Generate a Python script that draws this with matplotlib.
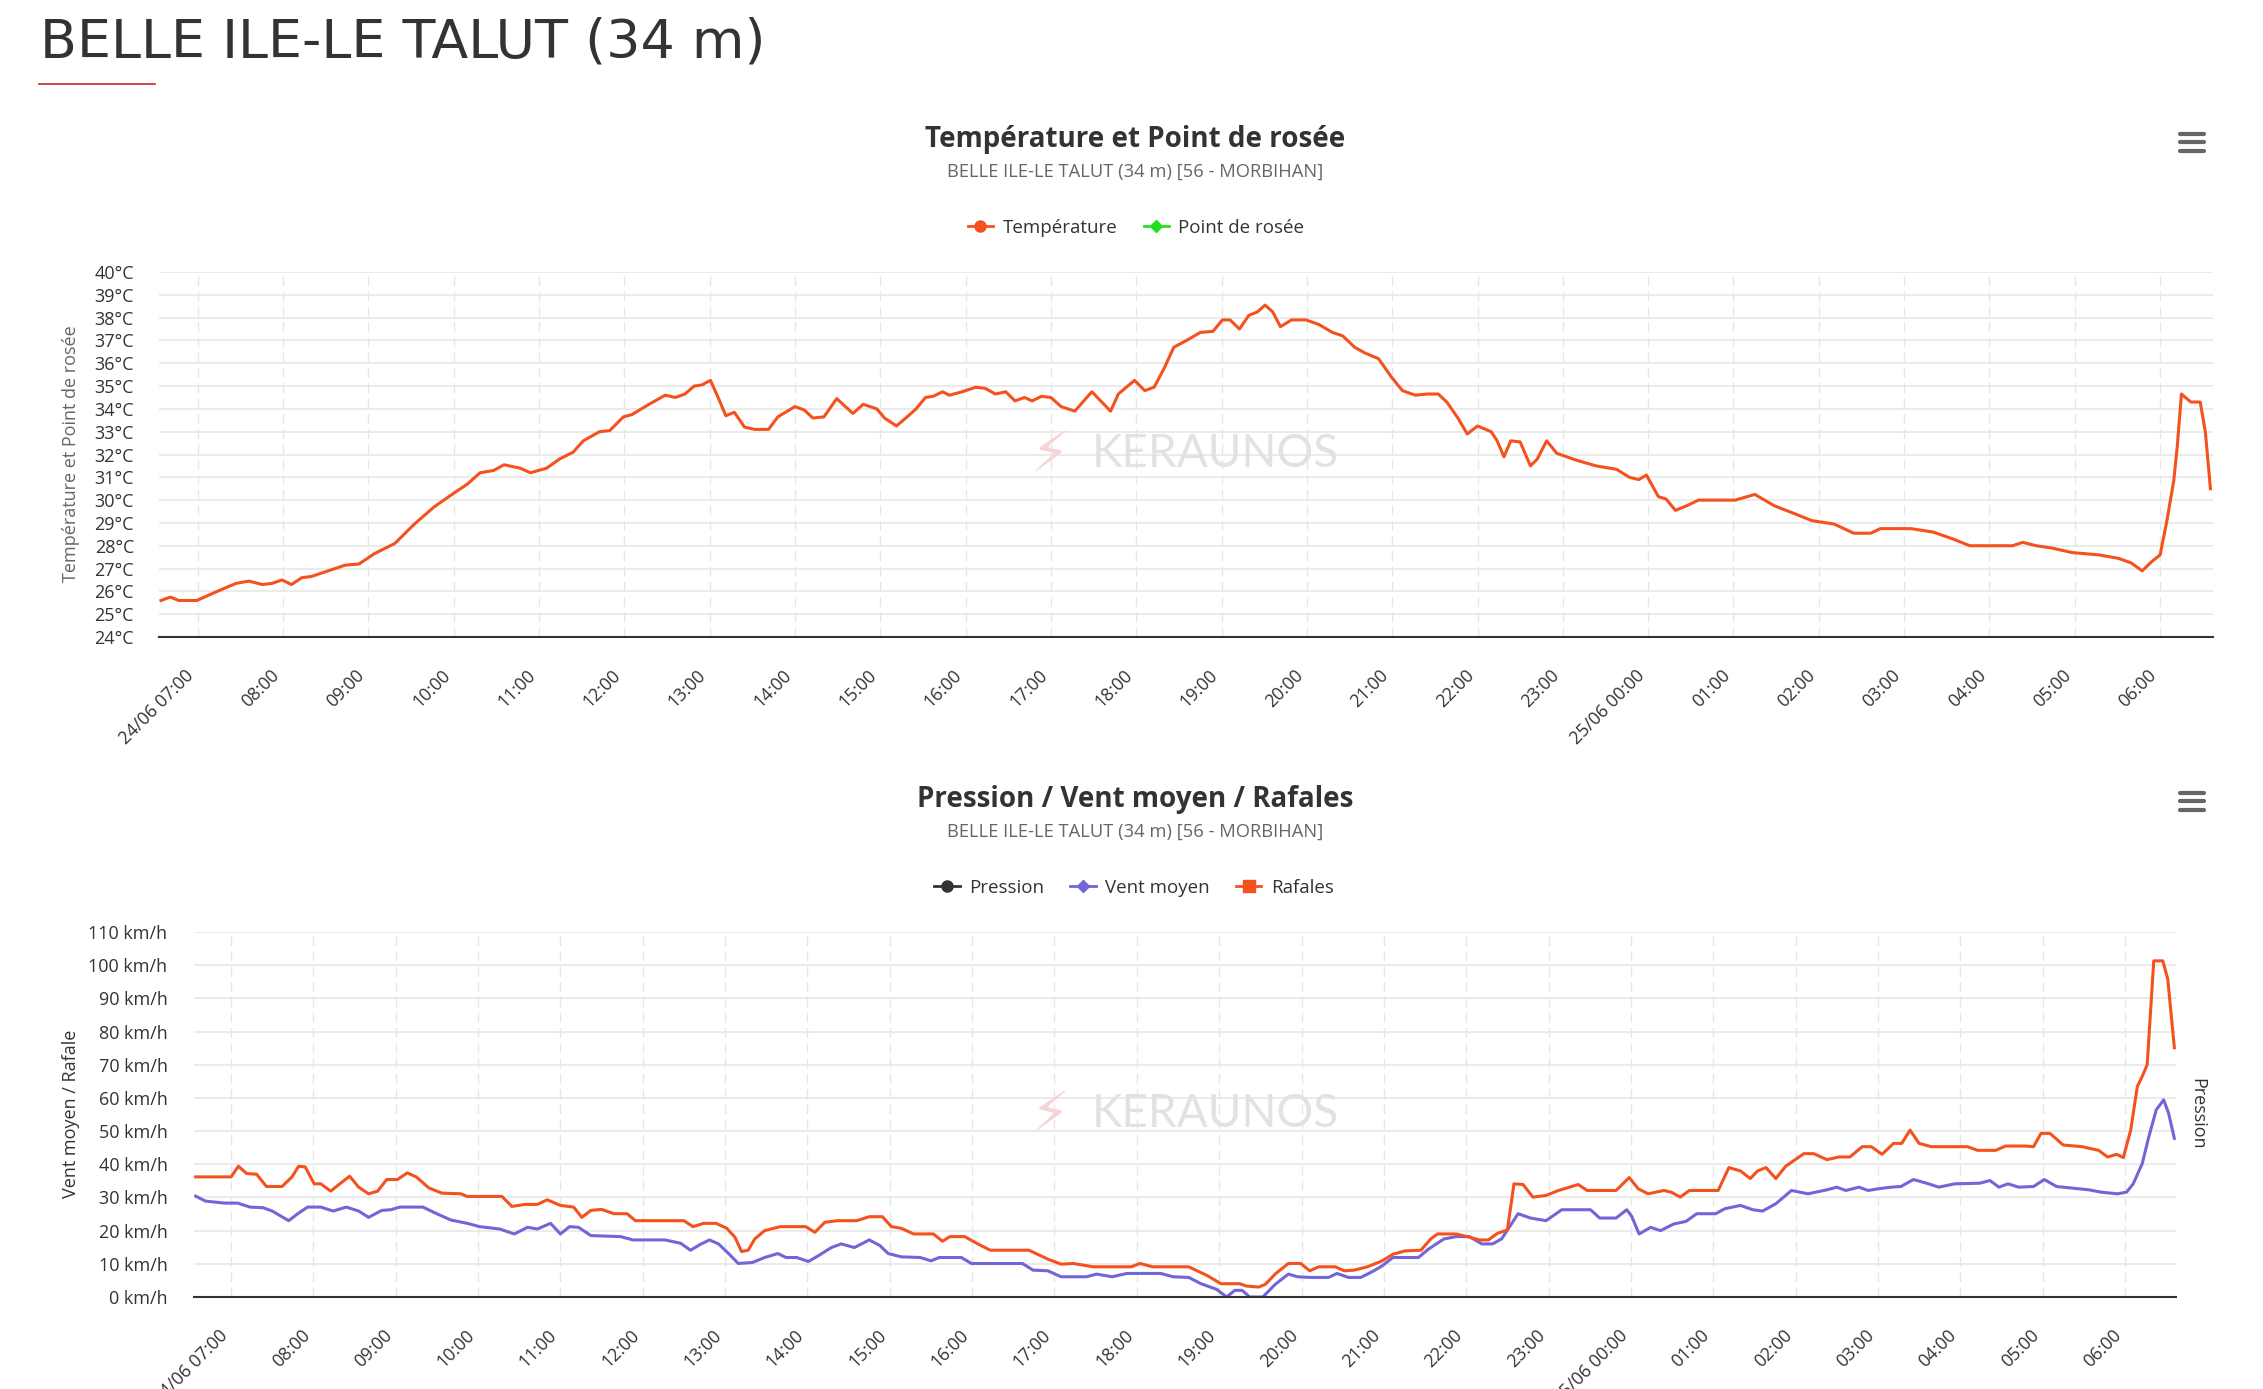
import matplotlib
matplotlib.use('Agg')
import matplotlib.pyplot as plt
from matplotlib.lines import Line2D

plt.rcParams['font.family'] = ['Open Sans', 'DejaVu Sans']

W, H = 2263, 1389

# ---- data (hours since 24/06 00:00) ----
temp_hours = [6.57, 6.68, 6.78, 6.99, 7.14, 7.29, 7.45, 7.60, 7.76, 7.87, 7.99, 8.10, 8.22, 8.33,
              8.53, 8.73, 8.89, 9.07, 9.31, 9.54, 9.77, 10.00, 10.16, 10.31, 10.47, 10.59, 10.78,
              10.90, 11.09, 11.24, 11.40, 11.52, 11.71, 11.83, 11.99, 12.09, 12.29, 12.48, 12.60,
              12.71, 12.82, 12.91, 13.01, 13.10, 13.19, 13.29, 13.41, 13.53, 13.69, 13.80, 14.00,
              14.11, 14.21, 14.34, 14.49, 14.68, 14.80, 14.96, 15.05, 15.19, 15.30, 15.42, 15.53,
              15.62, 15.73, 15.81, 15.96, 16.12, 16.23, 16.35, 16.47, 16.58, 16.69, 16.78, 16.89,
              17.00, 17.12, 17.28, 17.48, 17.70, 17.79, 17.98, 18.10, 18.21, 18.33, 18.44, 18.59,
              18.75, 18.90, 19.01, 19.10, 19.21, 19.32, 19.42, 19.51, 19.60, 19.69, 19.82, 19.99,
              20.14, 20.30, 20.42, 20.56, 20.68, 20.84, 20.99, 21.12, 21.27, 21.41, 21.54, 21.64,
              21.77, 21.88, 22.00, 22.16, 22.23, 22.31, 22.39, 22.50, 22.62, 22.70, 22.81, 22.93,
              23.16, 23.39, 23.63, 23.78, 23.89, 23.98, 24.12, 24.21, 24.32, 24.45, 24.59, 25.02,
              25.25, 25.48, 25.72, 25.92, 26.18, 26.41, 26.61, 26.72, 27.08, 27.34, 27.57, 27.77,
              28.27, 28.39, 28.55, 28.73, 28.97, 29.28, 29.51, 29.66, 29.79, 29.90, 30.00, 30.08,
              30.16, 30.20, 30.25, 30.36, 30.47, 30.53, 30.59]
temp_values = [25.6, 25.75, 25.6, 25.6, 25.85, 26.1, 26.35, 26.45, 26.3, 26.35, 26.5, 26.3, 26.6, 26.65,
               26.9, 27.15, 27.2, 27.65, 28.1, 28.95, 29.7, 30.3, 30.7, 31.2, 31.3, 31.55, 31.4,
               31.2, 31.4, 31.8, 32.1, 32.6, 33.0, 33.05, 33.65, 33.75, 34.2, 34.6, 34.5,
               34.65, 35.0, 35.05, 35.25, 34.5, 33.7, 33.85, 33.2, 33.1, 33.1, 33.65, 34.1,
               33.95, 33.6, 33.65, 34.45, 33.8, 34.2, 34.0, 33.6, 33.25, 33.6, 34.0, 34.5,
               34.55, 34.75, 34.6, 34.75, 34.95, 34.9, 34.65, 34.75, 34.35, 34.5, 34.35, 34.55,
               34.5, 34.1, 33.9, 34.75, 33.9, 34.65, 35.25, 34.8, 34.95, 35.8, 36.7, 37.0,
               37.35, 37.4, 37.9, 37.9, 37.5, 38.1, 38.25, 38.55, 38.25, 37.6, 37.9, 37.9,
               37.7, 37.35, 37.2, 36.7, 36.45, 36.2, 35.4, 34.8, 34.6, 34.65, 34.65, 34.3,
               33.6, 32.9, 33.25, 33.0, 32.6, 31.9, 32.6, 32.55, 31.5, 31.8, 32.6, 32.05,
               31.75, 31.5, 31.35, 31.0, 30.9, 31.1, 30.15, 30.05, 29.55, 29.75, 30.0, 30.0,
               30.25, 29.75, 29.4, 29.1, 28.95, 28.55, 28.55, 28.75, 28.75, 28.6, 28.3, 28.0,
               28.0, 28.15, 28.0, 27.9, 27.7, 27.6, 27.45, 27.25, 26.9, 27.3, 27.6, 29.1,
               30.85, 32.3, 34.65, 34.3, 34.3, 33.0, 30.5]

gust_hours = [6.57, 7.00, 7.09, 7.19, 7.31, 7.43, 7.62, 7.74, 7.82, 7.90, 8.01, 8.09, 8.21, 8.32,
              8.44, 8.55, 8.67, 8.78, 8.89, 9.02, 9.14, 9.25, 9.40, 9.56, 9.79, 9.87, 10.29,
              10.41, 10.57, 10.72, 10.84, 11.00, 11.16, 11.26, 11.37, 11.50, 11.65, 11.81, 11.91,
              12.50, 12.61, 12.74, 12.89, 13.02, 13.12, 13.20, 13.28, 13.36, 13.48, 13.67, 13.98,
              14.09, 14.21, 14.36, 14.60, 14.75, 14.91, 15.02, 15.14, 15.29, 15.53, 15.64, 15.73,
              15.91, 16.07, 16.22, 16.69, 16.92, 17.08, 17.23, 17.47, 17.93, 18.04, 18.19, 18.63,
              18.86, 19.02, 19.25, 19.33, 19.48, 19.56, 19.68, 19.84, 19.99, 20.10, 20.21, 20.41,
              20.52, 20.64, 20.80, 20.98, 21.11, 21.26, 21.45, 21.57, 21.65, 21.88, 22.01, 22.16,
              22.27, 22.38, 22.50, 22.58, 22.69, 22.81, 22.97, 23.12, 23.36, 23.47, 23.82, 23.98,
              24.09, 24.21, 24.40, 24.49, 24.60, 24.71, 25.06, 25.19, 25.33, 25.45, 25.54, 25.64,
              25.76, 25.88, 26.10, 26.22, 26.38, 26.53, 26.66, 26.81, 26.92, 27.05, 27.19, 27.29,
              27.39, 27.50, 27.65, 28.09, 28.21, 28.43, 28.55, 28.78, 28.89, 28.98, 29.09, 29.25,
              29.48, 29.68, 29.79, 29.90, 29.98, 30.07, 30.15, 30.21, 30.27, 30.35, 30.46, 30.52,
              30.60]
gust_values = [36.2, 36.2, 39.4, 37.2, 37.0, 33.3, 33.3, 36.2, 39.4, 39.2, 34.1, 34.1, 31.9, 34.1,
               36.4, 33.1, 31.1, 31.9, 35.4, 35.4, 37.4, 36.2, 32.9, 31.3, 31.1, 30.3, 30.3,
               27.3, 27.9, 27.9, 29.3, 27.6, 27.1, 24.0, 26.1, 26.4, 25.1, 25.1, 23.0,
               23.0, 21.2, 22.2, 22.2, 20.7, 18.0, 13.7, 14.1, 17.5, 20.0, 21.2, 21.2,
               19.5, 22.5, 23.0, 23.0, 24.2, 24.2, 21.2, 20.7, 19.0, 19.0, 16.8, 18.2,
               18.2, 16.0, 14.1, 14.1, 11.4, 9.9, 10.1, 9.1, 9.1, 10.1, 9.1, 9.1,
               6.4, 4.0, 4.0, 3.3, 3.0, 3.8, 6.9, 10.1, 10.1, 7.9, 9.1, 9.1,
               7.9, 8.1, 9.1, 10.9, 12.9, 13.9, 14.1, 17.5, 19.0, 19.0, 18.2, 17.2,
               17.2, 19.2, 20.2, 34.1, 33.9, 30.1, 30.6, 32.1, 33.9, 32.1, 32.1, 36.0,
               32.6, 31.1, 32.1, 31.6, 30.1, 32.1, 32.1, 39.0, 38.0, 35.7, 38.0, 39.0,
               35.7, 39.4, 43.2, 43.2, 41.4, 42.2, 42.2, 45.3, 45.3, 43.0, 46.3, 46.3,
               50.3, 46.3, 45.3, 45.3, 44.2, 44.2, 45.5, 45.5, 45.3, 49.3, 49.3, 45.8,
               45.3, 44.2, 42.2, 43.0, 42.0, 50.3, 63.4, 66.5, 70.0, 101.3, 101.3, 95.8,
               75.1]

wind_hours = [6.57, 6.69, 6.92, 7.08, 7.23, 7.39, 7.50, 7.70, 7.81, 7.93, 8.09, 8.24, 8.40, 8.55,
              8.67, 8.83, 8.94, 9.05, 9.33, 9.48, 9.67, 9.87, 10.02, 10.26, 10.44, 10.60, 10.72,
              10.88, 11.00, 11.11, 11.22, 11.37, 11.73, 11.88, 12.27, 12.46, 12.58, 12.71, 12.81,
              12.92, 13.05, 13.16, 13.33, 13.48, 13.64, 13.74, 13.87, 14.01, 14.13, 14.29, 14.41,
              14.57, 14.75, 14.88, 14.98, 15.14, 15.37, 15.50, 15.60, 15.87, 15.99, 16.61, 16.74,
              16.92, 17.08, 17.39, 17.51, 17.70, 17.88, 18.29, 18.44, 18.63, 18.78, 18.97, 19.09,
              19.19, 19.28, 19.37, 19.53, 19.68, 19.84, 19.95, 20.10, 20.33, 20.43, 20.57, 20.72,
              20.88, 20.98, 21.11, 21.42, 21.54, 21.73, 21.88, 22.04, 22.19, 22.32, 22.43, 22.63,
              22.78, 22.97, 23.16, 23.51, 23.62, 23.82, 23.95, 24.01, 24.10, 24.24, 24.36, 24.52,
              24.67, 24.80, 25.03, 25.14, 25.33, 25.48, 25.60, 25.76, 25.95, 26.15, 26.38, 26.50,
              26.61, 26.77, 26.88, 27.00, 27.16, 27.28, 27.43, 27.59, 27.74, 27.93, 28.24, 28.36,
              28.47, 28.58, 28.71, 28.89, 29.02, 29.17, 29.33, 29.56, 29.71, 29.91, 30.02, 30.10,
              30.21, 30.29, 30.38, 30.47, 30.53, 30.60]
wind_mean = [30.4, 28.9, 28.3, 28.3, 27.1, 26.9, 25.9, 23.0, 25.1, 27.1, 27.1, 25.9, 27.1, 25.9,
             24.0, 26.1, 26.3, 27.1, 27.1, 25.3, 23.2, 22.2, 21.2, 20.5, 19.0, 21.0, 20.5,
             22.2, 19.0, 21.2, 21.0, 18.5, 18.2, 17.2, 17.2, 16.2, 14.1, 16.0, 17.2,
             16.0, 12.9, 10.1, 10.4, 11.9, 13.1, 11.9, 11.9, 10.7, 12.4, 14.9, 16.0,
             14.9, 17.2, 15.5, 13.1, 12.1, 11.9, 10.9, 11.9, 11.9, 10.1, 10.1, 8.1,
             7.9, 6.1, 6.1, 6.9, 6.1, 7.1, 7.1, 6.1, 5.9, 4.0, 2.3, 0.0,
             2.0, 2.0, 0.0, 0.0, 3.8, 6.9, 6.1, 5.9, 5.9, 7.1, 5.9, 5.9,
             7.9, 9.4, 11.9, 11.9, 14.4, 17.5, 18.2, 18.2, 16.0, 16.0, 17.5, 25.1,
             23.8, 23.0, 26.3, 26.3, 23.8, 23.8, 26.3, 24.3, 19.0, 21.0, 20.0, 22.0,
             22.8, 25.1, 25.1, 26.6, 27.6, 26.3, 25.9, 28.1, 32.1, 31.1, 32.3, 33.1,
             32.1, 33.1, 32.1, 32.6, 33.1, 33.3, 35.4, 34.3, 33.1, 34.1, 34.3, 35.1,
             33.1, 34.1, 33.1, 33.3, 35.4, 33.3, 32.9, 32.3, 31.6, 31.1, 31.6, 34.1,
             40.2, 48.3, 56.4, 59.4, 55.4, 47.8]

hour_ticks = list(range(7, 31))
hour_labels = (['24/06 07:00'] + ['%02d:00' % h for h in range(8, 24)]
               + ['25/06 00:00'] + ['%02d:00' % h for h in range(1, 7)])

temp_ticks = list(range(24, 41))
wind_ticks = list(range(0, 111, 10))

ORANGE = '#f4511e'
PURPLE = '#7265d8'
GREEN = '#22e01e'
DARK = '#333333'
GRID = '#e6e6e6'


def fx(px):
    return px / W


def fy(py):
    return 1 - py / H


fig = plt.figure(figsize=(W / 100, H / 100), dpi=100)
fig.patch.set_facecolor('white')

# page header
fig.text(fx(40), fy(58), 'BELLE ILE-LE TALUT (34 m)', fontsize=38.8, color=DARK,
         family=['DejaVu Sans'], fontweight='normal', ha='left', va='baseline')
fig.add_artist(Line2D([fx(39), fx(155)], [fy(84), fy(84)], color='#c8262e', lw=1.2))


def hamburger(cy):
    for dy in (-8.5, 0, 8.5):
        fig.add_artist(Line2D([fx(2180), fx(2204)], [fy(cy + dy), fy(cy + dy)],
                              color='#666666', lw=3, solid_capstyle='round'))


def watermark(cx, cy):
    fig.text(fx(cx - 160), fy(cy + 2), '\u26a1', fontsize=40, color='#f7d4d4',
             family='DejaVu Sans', ha='center', va='center', zorder=0)
    fig.text(fx(cx + 5), fy(cy), 'KERAUNOS', fontsize=33, color='#e2e2e2',
             family=['Lato', 'DejaVu Sans'], fontweight='normal', ha='center', va='center', zorder=0)


def style_axes(ax, xmin, xmax, ypad):
    ax.set_xlim(xmin, xmax)
    ax.set_xticks(hour_ticks)
    ax.set_xticklabels(hour_labels, rotation=45, ha='right', va='top')
    ax.tick_params(axis='x', length=0, pad=21, labelsize=12.8, labelcolor=DARK)
    ax.tick_params(axis='y', length=0, pad=ypad, labelsize=13, labelcolor=DARK)
    for s in ('top', 'right', 'left'):
        ax.spines[s].set_visible(False)
    ax.spines['bottom'].set_color(DARK)
    ax.spines['bottom'].set_linewidth(1.5)
    ax.grid(axis='y', color=GRID, lw=1.1)
    ax.grid(axis='x', color=GRID, lw=1.0, linestyle=(0, (7, 4)))
    ax.set_axisbelow(True)


# ---------- chart 1 : temperature ----------
ax1 = fig.add_axes([fx(159), fy(637), fx(2213 - 159), (637 - 272) / H])
ax1.plot(temp_hours, temp_values, color=ORANGE, lw=2.2, solid_joinstyle='round')
ax1.set_ylim(24, 40)
ax1.set_yticks(temp_ticks)
ax1.set_yticklabels(['%d°C' % v for v in temp_ticks])
style_axes(ax1, 6.547, 30.62, 18)

fig.text(fx(1135), fy(147), 'Température et Point de rosée', fontsize=20, fontweight='bold',
         color=DARK, ha='center', va='baseline')
fig.text(fx(1135), fy(177), 'BELLE ILE-LE TALUT (34 m) [56 - MORBIHAN]', fontsize=13.2,
         color='#666666', ha='center', va='baseline')
fig.text(fx(71), fy(454), 'Température et Point de rosée', fontsize=13, color='#666666',
         rotation=90, ha='center', va='center')
leg1 = [Line2D([], [], color=ORANGE, lw=2, marker='o', markersize=8, label='Température'),
        Line2D([], [], color=GREEN, lw=2, marker='D', markersize=6.5, label='Point de rosée')]
fig.legend(handles=leg1, loc='center', bbox_to_anchor=(fx(1136), fy(228)), ncol=2,
           frameon=False, fontsize=13.5, handlelength=1.35, handletextpad=0.5,
           columnspacing=1.4, labelcolor=DARK)
hamburger(142)
watermark(1210, 454)

# ---------- chart 2 : wind ----------
ax2 = fig.add_axes([fx(194), fy(1297), fx(2176 - 194), (1297 - 932) / H])
ax2.plot(wind_hours, wind_mean, color=PURPLE, lw=2.2, solid_joinstyle='round')
ax2.plot(gust_hours, gust_values, color=ORANGE, lw=2.2, solid_joinstyle='round')
ax2.set_ylim(0, 110)
ax2.set_yticks(wind_ticks)
ax2.set_yticklabels(['%d km/h' % v for v in wind_ticks])
style_axes(ax2, 6.55, 30.62, 19)

fig.text(fx(1135), fy(807), 'Pression / Vent moyen / Rafales', fontsize=20, fontweight='bold',
         color=DARK, ha='center', va='baseline')
fig.text(fx(1135), fy(837), 'BELLE ILE-LE TALUT (34 m) [56 - MORBIHAN]', fontsize=13.2,
         color='#666666', ha='center', va='baseline')
fig.text(fx(71), fy(1114), 'Vent moyen / Rafale', fontsize=13, color=DARK,
         rotation=90, ha='center', va='center')
fig.text(fx(2197), fy(1114), 'Pression', fontsize=13, color=DARK,
         rotation=-90, ha='center', va='center')
leg2 = [Line2D([], [], color=DARK, lw=2, marker='o', markersize=8, label='Pression'),
        Line2D([], [], color=PURPLE, lw=2, marker='D', markersize=6.5, label='Vent moyen'),
        Line2D([], [], color=ORANGE, lw=2, marker='s', markersize=8, label='Rafales')]
fig.legend(handles=leg2, loc='center', bbox_to_anchor=(fx(1134), fy(888)), ncol=3,
           frameon=False, fontsize=13.5, handlelength=1.35, handletextpad=0.5,
           columnspacing=1.4, labelcolor=DARK)
hamburger(801)
watermark(1210, 1114)

fig.savefig('out.png', dpi=100, facecolor='white')
